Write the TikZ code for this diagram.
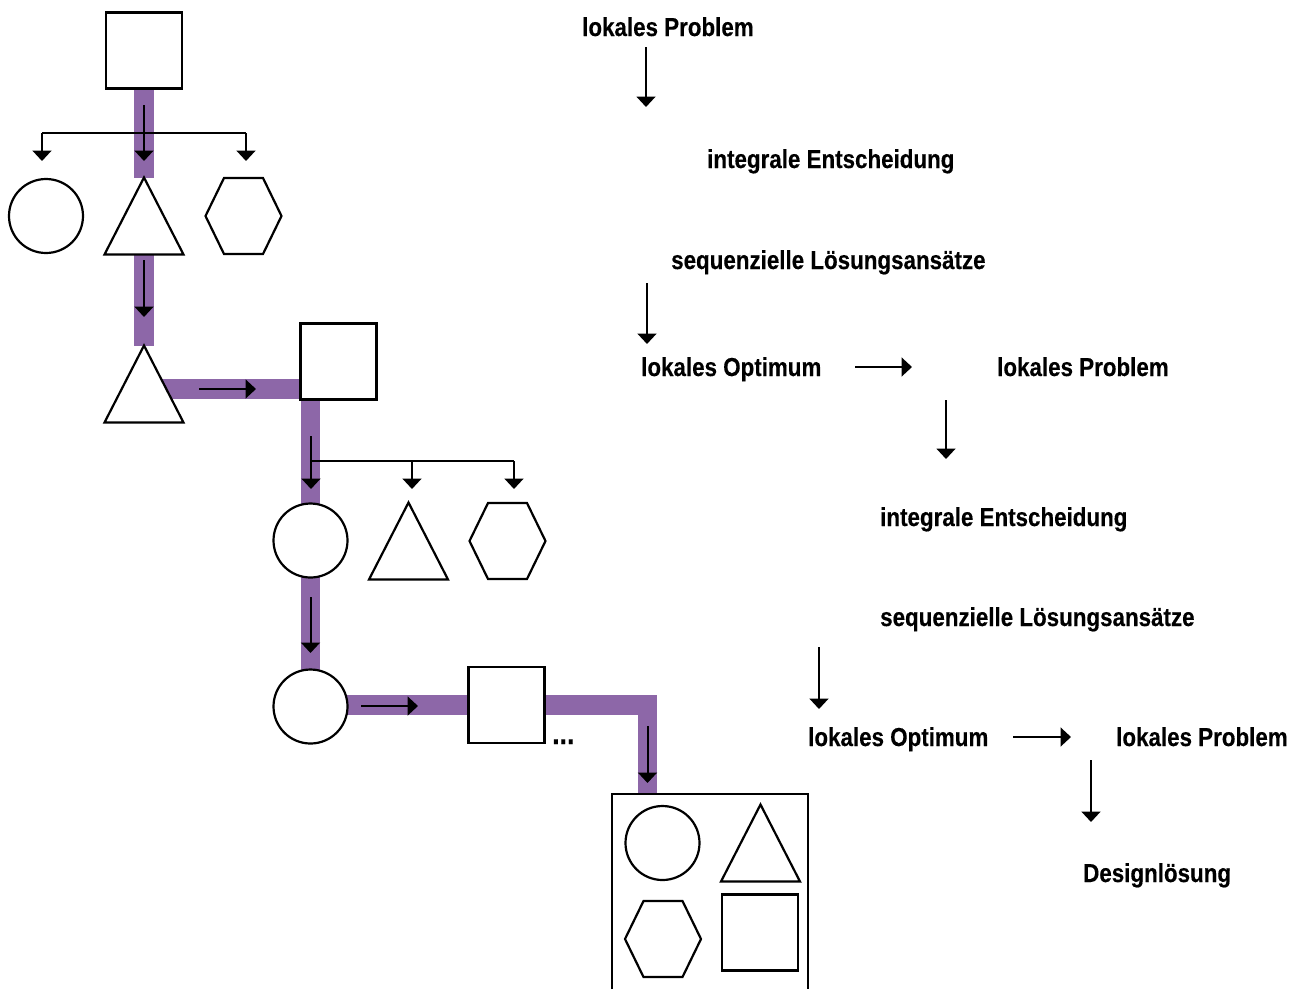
\documentclass[tikz,border=0pt]{standalone}
\usepackage{fontspec}
\newfontfamily\lblfont{Liberation Sans}[FakeStretch=0.86,FakeBold=0.3]
\usetikzlibrary{arrows.meta,calc,backgrounds}
\definecolor{pathpurple}{RGB}{141,103,168}
\tikzset{
  outline/.style={draw=black, line width=2.2pt, fill=white},
  circ/.style={outline, circle, minimum size=74pt, inner sep=0pt},
  sq/.style={outline, rectangle, minimum size=76pt, inner sep=0pt},
  band/.style={draw=pathpurple, line width=19.5pt, line cap=butt, line join=miter},
  arr/.style={draw=black, line width=2pt, -{Triangle[width=19pt,length=10.5pt]}},
  plain/.style={draw=black, line width=2pt},
  lbl/.style={font=\lblfont\bfseries\fontsize{26}{30}\selectfont, inner sep=0pt, anchor=base west},
  tri/.pic={\path[outline] (-39.5,38.5) -- (0,-38.5) coordinate (-apex) -- (39.5,38.5) -- cycle;
            \coordinate (-c) at (0,0);},
  hexa/.pic={\path[outline] (-38,0) -- (-19.5,-38) -- (19.5,-38) -- (38,0) -- (19.5,38) -- (-19.5,38) -- cycle;
             \coordinate (-c) at (0,0);},
}
\begin{document}
\begin{tikzpicture}[x=1pt,y=-1pt]
\useasboundingbox (0,0) rectangle (1298,989);

% ---- first level: problem and its three alternatives
\node[sq] (sq1) at (144,50.5) {};
\node[circ] (c1) at (46,216) {};
\pic (t1) at (144,216) {tri};
\pic (h1) at (243.5,216) {hexa};

% ---- chosen triangle, next problem
\pic (t2) at (144,384) {tri};
\node[sq] (sq2) at (338.5,361.5) {};

% ---- second level alternatives
\node[circ] (c2) at (310.5,540.5) {};
\pic (t3) at (408.5,541) {tri};
\pic (h2) at (507.5,541) {hexa};

% ---- chosen circle, next problem
\node[circ] (c3) at (310.5,706.5) {};
\node[sq] (sq3) at (506.5,705) {};
\node[lbl, font=\lblfont\bfseries\fontsize{31}{34}\selectfont] (dots) at (552,744) {...};

% ---- final design solution
\coordinate (boxtl) at (612,794);
\coordinate (boxtr) at (808,794);
\draw[plain, line width=2.2pt] (612,989) -- (boxtl) -- (boxtr) -- (808,989);
\node[circ] (c4) at (662.5,843) {};
\pic (t4) at (760.5,843) {tri};
\pic (h3) at (663,939) {hexa};
\node[sq] (sq4) at (760,932.5) {};

% ---- highlighted solution path behind the shapes
\coordinate (j1) at (310.5,389);
\coordinate (j2) at (647.5,705);
\begin{pgfonlayer}{background}
  \draw[band] (sq1.center) -- (t1-apex);
  \draw[band] (t1-c) -- (t2-apex);
  \draw[band] (t2-c |- j1) -- (j1) -- (c2.center);
  \draw[band] (c2.center) -- (c3.center);
  \draw[band] (c3.center |- j2) -- (j2) -- (j2 |- boxtl);
\end{pgfonlayer}

% ---- arrows of the first decision tree
\draw[arr] (144,105) -- (144,161);
\draw[plain] (42,133) -- (246,133);
\draw[arr] (42,133) -- (42,161);
\draw[arr] (246,133) -- (246,161);
\draw[arr] (144,260) -- (144,317);
\draw[arr] (199,389) -- (256,389);

% ---- arrows of the second decision tree
\draw[arr] (311,436) -- (311,489);
\draw[plain] (311,461) -- (514,461);
\draw[arr] (412,461) -- (412,489);
\draw[arr] (514,461) -- (514,489);
\draw[arr] (310.5,597) -- (310.5,653);
\draw[arr] (361,706) -- (418,706);
\draw[arr] (647.5,726) -- (647.5,783);

% ---- textual sequence
\node[lbl] (lp1) at (582,36) {lokales Problem};
\node[lbl] (ie1) at (707,168) {integrale Entscheidung};
\node[lbl] (sl1) at (671,269) {sequenzielle Lösungsansätze};
\node[lbl] (lo1) at (641,376) {lokales Optimum};
\node[lbl] (lp2) at (997,376) {lokales Problem};
\node[lbl] (ie2) at (880,526) {integrale Entscheidung};
\node[lbl] (sl2) at (880,626) {sequenzielle Lösungsansätze};
\node[lbl] (lo2) at (808,746) {lokales Optimum};
\node[lbl] (lp3) at (1116,746) {lokales Problem};
\node[lbl] (dl) at (1083,882) {Designlösung};

\draw[arr] (646,47) -- (646,107);
\draw[arr] (647,283) -- (647,344);
\draw[arr] (855,367) -- (912,367);
\draw[arr] (946,400) -- (946,459);
\draw[arr] (819,647) -- (819,709);
\draw[arr] (1013,737) -- (1071,737);
\draw[arr] (1091,760) -- (1091,822);
\end{tikzpicture}
\end{document}
